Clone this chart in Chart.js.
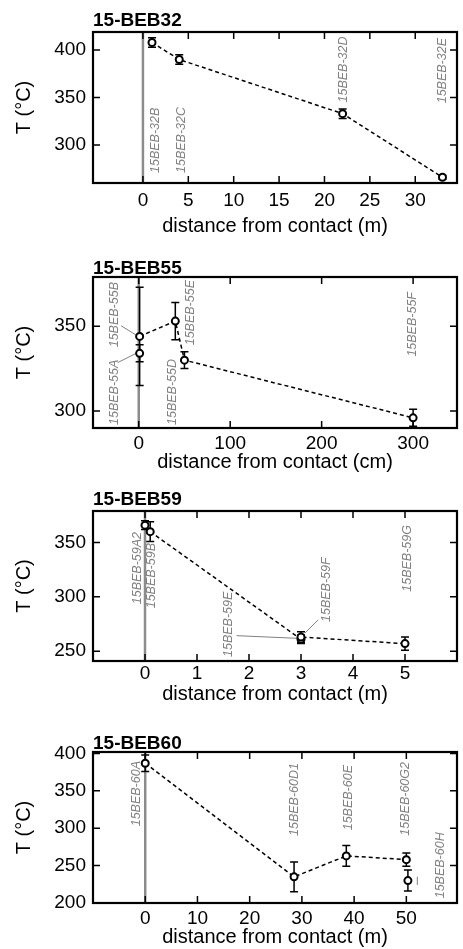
<!DOCTYPE html>
<html>
<head>
<meta charset="utf-8">
<script src="https://cdn.jsdelivr.net/npm/chart.js@4.4.1/dist/chart.umd.min.js"></script>
<style>
  body { margin: 0; background: #fff; }
  #wrap { position: relative; width: 463px; height: 949px; }
  canvas { position: absolute; left: 0; }
</style>
</head>
<body>
<div id="wrap">
  <canvas id="beb32" width="463" height="240" style="top:0px"></canvas>
  <canvas id="beb55" width="463" height="235" style="top:240px"></canvas>
  <canvas id="beb59" width="463" height="235" style="top:475px"></canvas>
  <canvas id="beb60" width="463" height="239" style="top:710px"></canvas>
</div>
<script>
// 15-BEB32 traverse (distance in m)
var beb32Names = ['15BEB-32B', '15BEB-32C', '15BEB-32D', '15BEB-32E'];
var beb32Dist = [1, 4, 22, 33];
var beb32Temp = [408, 390, 333, 266];
var beb32Err = [5, 5, 5, 2];
var beb32OnTrend = [true, true, true, true];
var beb32XTicks = [0, 5, 10, 15, 20, 25, 30];
var beb32YTicks = [300, 350, 400];

// 15-BEB55 traverse (distance in cm)
var beb55Names = ['15BEB-55A', '15BEB-55B', '15BEB-55D', '15BEB-55E', '15BEB-55F'];
var beb55Dist = [1, 1, 50, 40, 300];
var beb55Temp = [334, 344, 330, 353, 296];
var beb55Err = [5, 29, 5, 11, 5];
var beb55OnTrend = [false, true, true, true, true];
var beb55XTicks = [0, 100, 200, 300];
var beb55YTicks = [300, 350];

// 15-BEB59 traverse (distance in m)
var beb59Names = ['15BEB-59A2', '15BEB-59B', '15BEB-59E', '15BEB-59F', '15BEB-59G'];
var beb59Dist = [0, 0.1, 3, 3, 5];
var beb59Temp = [366, 360, 261, 263, 257];
var beb59Err = [4, 9, 4, 5, 6];
var beb59OnTrend = [false, true, true, true, true];
var beb59XTicks = [0, 1, 2, 3, 4, 5];
var beb59YTicks = [250, 300, 350];

// 15-BEB60 traverse (distance in m)
var beb60Names = ['15BEB-60A', '15BEB-60D1', '15BEB-60E', '15BEB-60G2', '15BEB-60H'];
var beb60Dist = [0, 28.5, 38.5, 50, 50.3];
var beb60Temp = [387, 235, 263, 258, 230];
var beb60Err = [11, 20, 14, 9, 14];
var beb60OnTrend = [true, true, true, true, false];
var beb60XTicks = [0, 10, 20, 30, 40, 50];
var beb60YTicks = [200, 250, 300, 350, 400];

var FONT = '"Liberation Sans", Arial, Helvetica, sans-serif';

// panel layout: axis ranges, paddings and where each sample tag sits
var panels = [
  { canvas: 'beb32', title: '15-BEB32', unit: 'm',
    names: beb32Names, dist: beb32Dist, temp: beb32Temp, err: beb32Err, onTrend: beb32OnTrend,
    xTicks: beb32XTicks, yTicks: beb32YTicks,
    xRange: [-5.5, 34.6], yRange: [260, 419],
    top: 32, axisH: 57, tickPad: 6, titlePad: 2, titleGap: 6,
    tags: [
      { dx: 4, edge: 'bottom', inset: 10 },
      { dx: 2, edge: 'bottom', inset: 10 },
      { dx: 1, edge: 'top', inset: 4.5 },
      { dx: 0, edge: 'top', inset: 6 }
    ] },
  { canvas: 'beb55', title: '15-BEB55', unit: 'cm',
    names: beb55Names, dist: beb55Dist, temp: beb55Temp, err: beb55Err, onTrend: beb55OnTrend,
    xTicks: beb55XTicks, yTicks: beb55YTicks,
    xRange: [-50, 348], yRange: [290, 379],
    top: 37, axisH: 47, tickPad: 4, titlePad: 0.5, titleGap: 3.5,
    tags: [
      { dx: -25, edge: 'bottom', inset: 3, leader: [-22, 9.3, -3.5, 0] },
      { dx: -25, edge: 'top', inset: 5, leader: [-18.5, -10.6, -3.5, -1.3] },
      { dx: -12, edge: 'bottom', inset: 3 },
      { dx: 15, edge: 'top', inset: 3 },
      { dx: -1, edge: 'top', inset: 15 }
    ] },
  { canvas: 'beb59', title: '15-BEB59', unit: 'm',
    names: beb59Names, dist: beb59Dist, temp: beb59Temp, err: beb59Err, onTrend: beb59OnTrend,
    xTicks: beb59XTicks, yTicks: beb59YTicks,
    xRange: [-1, 6], yRange: [241, 379],
    top: 36, axisH: 49, tickPad: 1, titlePad: 4, titleGap: 6,
    tags: [
      { dx: -7, edge: 'top', inset: 21 },
      { dx: 1.2, edge: 'top', inset: 32 },
      { dx: -72, edge: 'bottom', inset: 4, leader: [-64.4, -3.6, -2.7, -0.9] },
      { dx: 25.6, edge: 'bottom', inset: 39, leader: [17.3, -17.3, 3.9, -4] },
      { dx: 3, edge: 'top', inset: 14 }
    ] },
  { canvas: 'beb60', title: '15-BEB60', unit: 'm',
    names: beb60Names, dist: beb60Dist, temp: beb60Temp, err: beb60Err, onTrend: beb60OnTrend,
    xTicks: beb60XTicks, yTicks: beb60YTicks,
    xRange: [-10, 59.7], yRange: [200, 402],
    top: 42, axisH: 46, tickPad: 4, titlePad: 0, titleGap: 3,
    tags: [
      { dx: -8.5, edge: 'top', inset: 9 },
      { dx: 0.6, edge: 'top', inset: 11 },
      { dx: 2.7, edge: 'top', inset: 13 },
      { dx: -0.7, edge: 'top', inset: 10 },
      { dx: 33, edge: 'bottom', inset: 4.7, leader: [9.4, -4, 9.4, 4.4] }
    ] }
];

// contact line, sample tags, error bars, inward ticks and frame for one panel
function decor(p) {
  return {
    id: 'decor',
    beforeDatasetsDraw: function (chart) {
      var ctx = chart.ctx, area = chart.chartArea;
      var xs = chart.scales.x, ys = chart.scales.y;
      ctx.save();

      var x0 = xs.getPixelForValue(0);
      ctx.strokeStyle = '#8c8c8c';
      ctx.lineWidth = 2.5;
      ctx.beginPath();
      ctx.moveTo(x0, area.top);
      ctx.lineTo(x0, area.bottom);
      ctx.stroke();

      ctx.fillStyle = '#808080';
      ctx.strokeStyle = '#808080';
      ctx.lineWidth = 1;
      ctx.font = 'italic 12.5px ' + FONT;
      ctx.textBaseline = 'middle';
      p.names.forEach(function (name, i) {
        var tag = p.tags[i];
        var px = xs.getPixelForValue(p.dist[i]);
        var py = ys.getPixelForValue(p.temp[i]);
        ctx.save();
        if (tag.edge === 'top') {
          ctx.translate(px + tag.dx, area.top + tag.inset);
          ctx.textAlign = 'right';
        } else {
          ctx.translate(px + tag.dx, area.bottom - tag.inset);
          ctx.textAlign = 'left';
        }
        ctx.rotate(-Math.PI / 2);
        ctx.fillText(name, 0, 0);
        ctx.restore();
        if (tag.leader) {
          ctx.beginPath();
          ctx.moveTo(px + tag.leader[0], py + tag.leader[1]);
          ctx.lineTo(px + tag.leader[2], py + tag.leader[3]);
          ctx.stroke();
        }
      });

      ctx.strokeStyle = '#000';
      ctx.lineWidth = 1.5;
      p.dist.forEach(function (d, i) {
        var px = xs.getPixelForValue(d);
        var hi = ys.getPixelForValue(p.temp[i] + p.err[i]);
        var lo = ys.getPixelForValue(p.temp[i] - p.err[i]);
        ctx.beginPath();
        ctx.moveTo(px, hi); ctx.lineTo(px, lo);
        ctx.moveTo(px - 4, hi); ctx.lineTo(px + 4, hi);
        ctx.moveTo(px - 4, lo); ctx.lineTo(px + 4, lo);
        ctx.stroke();
      });
      ctx.restore();
    },
    afterDatasetsDraw: function (chart) {
      var ctx = chart.ctx, area = chart.chartArea;
      var xs = chart.scales.x, ys = chart.scales.y;
      var len = 7;
      ctx.save();
      ctx.strokeStyle = '#000';
      ctx.lineWidth = 1.5;
      ctx.beginPath();
      p.xTicks.forEach(function (v) {
        var px = xs.getPixelForValue(v);
        ctx.moveTo(px, area.bottom); ctx.lineTo(px, area.bottom - len);
        ctx.moveTo(px, area.top); ctx.lineTo(px, area.top + len);
      });
      p.yTicks.forEach(function (v) {
        var py = ys.getPixelForValue(v);
        ctx.moveTo(area.left, py); ctx.lineTo(area.left + len, py);
        ctx.moveTo(area.right, py); ctx.lineTo(area.right - len, py);
      });
      ctx.stroke();
      ctx.lineWidth = 2.2;
      ctx.strokeRect(area.left, area.top, area.right - area.left, area.bottom - area.top);

      ctx.fillStyle = '#000';
      ctx.font = 'bold 19px ' + FONT;
      ctx.textAlign = 'left';
      ctx.textBaseline = 'alphabetic';
      ctx.fillText(p.title, area.left, area.top - p.titleGap);
      ctx.restore();
    }
  };
}

function buildPanel(p) {
  var points = p.dist.map(function (d, i) { return { x: d, y: p.temp[i] }; });
  var trend = points.filter(function (pt, i) { return p.onTrend[i]; })
    .sort(function (a, b) { return a.x - b.x; });
  var tickFont = { family: FONT, size: 19 };
  var titleFont = { family: FONT, size: 20 };

  new Chart(document.getElementById(p.canvas), {
    type: 'scatter',
    data: {
      datasets: [
        {
          data: points,
          pointRadius: 3.5,
          pointBorderWidth: 2,
          pointBackgroundColor: '#fff',
          pointBorderColor: '#000'
        },
        {
          type: 'line',
          data: trend,
          borderColor: '#000',
          borderWidth: 1.5,
          borderDash: [4, 3],
          pointRadius: 0,
          fill: false,
          tension: 0
        }
      ]
    },
    options: {
      responsive: false,
      animation: false,
      events: [],
      layout: { padding: { top: p.top, right: 1, left: 0, bottom: 0 } },
      plugins: { legend: { display: false }, tooltip: { enabled: false } },
      scales: {
        x: {
          type: 'linear',
          min: p.xRange[0],
          max: p.xRange[1],
          afterBuildTicks: function (s) { s.ticks = p.xTicks.map(function (v) { return { value: v }; }); },
          afterFit: function (s) { s.height = p.axisH; },
          grid: { display: false, drawTicks: false },
          border: { display: false },
          ticks: { font: tickFont, color: '#000', padding: p.tickPad, autoSkip: false, maxRotation: 0 },
          title: {
            display: true,
            text: 'distance from contact (' + p.unit + ')',
            font: titleFont,
            color: '#000',
            padding: { top: 0, bottom: p.titlePad }
          }
        },
        y: {
          type: 'linear',
          min: p.yRange[0],
          max: p.yRange[1],
          afterBuildTicks: function (s) { s.ticks = p.yTicks.map(function (v) { return { value: v }; }); },
          afterFit: function (s) { s.width = 93; },
          grid: { display: false, drawTicks: false },
          border: { display: false },
          ticks: { font: tickFont, color: '#000', padding: 7, autoSkip: false },
          title: {
            display: true,
            text: 'T (°C)',
            font: titleFont,
            color: '#000',
            padding: { top: 12, bottom: 0 }
          }
        }
      }
    },
    plugins: [decor(p)]
  });
}

panels.forEach(buildPanel);
</script>
</body>
</html>
